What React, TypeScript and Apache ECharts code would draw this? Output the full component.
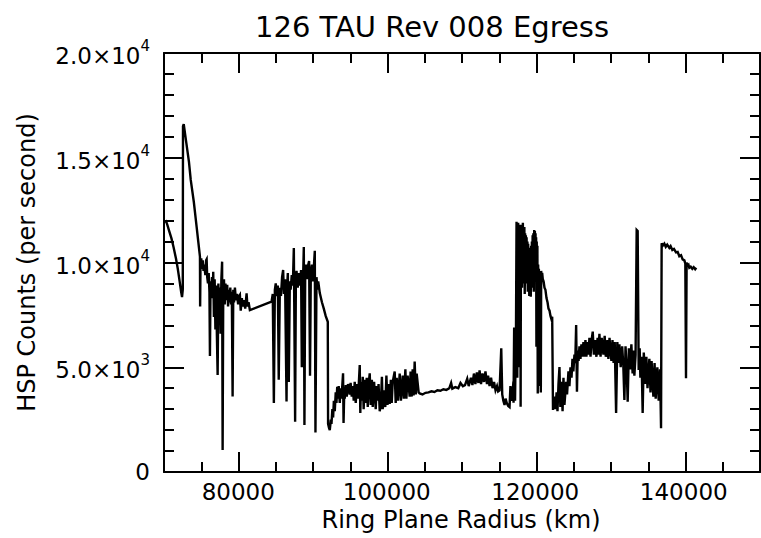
import React, { useEffect, useRef } from "react";
import * as echarts from "echarts";

const FONT = "DejaVu Sans";

const titleText = "126 TAU Rev 008 Egress";
const xAxisName = "Ring Plane Radius (km)";
const yAxisName = "HSP Counts (per second)";

const xMajorTicks = [80000, 100000, 120000, 140000];
const yTicks = [0, 5000, 10000, 15000, 20000];

// [radius km, counts per second]
const innerEdge: number[][] = [
  [70150, 11900], [70300, 11950], [70450, 11800], [70700, 11500], [71000, 11150], [71300, 10700],
  [71600, 10200], [71850, 9700], [72100, 9100], [72300, 8600], [72420, 8350], [72520, 8700],
  [72550, 16500], [72650, 16600], [73000, 15700], [73350, 14800], [73590, 13940], [74000, 12900],
  [74380, 11700], [74600, 11000], [74826, 10280],
];

const cRingInner: number[][] = [
  [74850, 7900], [74900, 9900], [75000, 10200], [75100, 9700], [75200, 10100], [75300, 9600],
  [75400, 9900], [75550, 9400], [75650, 10100], [75724, 10150], [75800, 9300], [75900, 9000],
  [76000, 9500], [76100, 8600], [76166, 5540], [76250, 9100], [76350, 8300], [76450, 9300],
  [76550, 8600], [76609, 9560], [76700, 7400], [76800, 9200], [76900, 6800], [77000, 8900],
  [77100, 6500], [77199, 4630], [77300, 9000], [77400, 7200], [77500, 8800], [77600, 6600],
  [77700, 9200], [77800, 10040], [77869, 1050], [77950, 8500], [78050, 9200], [78150, 8000],
  [78250, 9000], [78350, 8200], [78485, 8930], [78600, 7900], [78700, 8700], [78800, 8100],
  [78900, 8800], [79000, 8000], [79100, 8600], [79209, 3600], [79300, 8700], [79400, 8100],
  [79518, 8800], [79650, 8200], [79800, 8500], [79950, 8000], [80100, 8400], [80188, 8450],
  [80300, 7700], [80450, 8300], [80600, 7900], [80750, 8200], [80900, 7800], [81086, 8530],
  [81200, 7900], [81350, 8100], [81528, 7730],
];

const cRingOuter: number[][] = [
  [84437, 8130], [84600, 8500], [84746, 3290], [84880, 8700], [85000, 9000], [85150, 8400],
  [85282, 8900], [85400, 4400], [85550, 8800], [85700, 8400], [85850, 9300], [85992, 9640],
  [86100, 8500], [86250, 9200], [86448, 3360], [86550, 9000], [86622, 9500], [86750, 4300],
  [86890, 9100], [87000, 8700], [87150, 9400], [87293, 8900], [87427, 10690], [87601, 2400],
  [87700, 9100], [87789, 9600], [87950, 8800], [88100, 9500], [88231, 8900], [88400, 9640],
  [88500, 5000], [88673, 9300], [88767, 10740], [88850, 2240], [88950, 9300], [89050, 9900],
  [89169, 9200], [89300, 9800], [89478, 10070], [89600, 4600], [89706, 9500], [89850, 9900],
  [90014, 9100], [90100, 9700], [90242, 10560], [90330, 1880], [90470, 9300], [90600, 8700],
  [90700, 9100], [90912, 8540], [91200, 8100], [91448, 7800], [91700, 7450], [91984, 7170],
  [92024, 2300], [92150, 2100],
];

const bRingInner: number[][] = [
  [92252, 2000], [92400, 2500], [92480, 2300], [92600, 3000], [92700, 2600], [92800, 3400],
  [92923, 2900], [93050, 3800], [93150, 3300], [93250, 4070], [93325, 3500], [93450, 4100],
  [93593, 3300], [93700, 4000], [93821, 3500], [94035, 4710], [94100, 2340], [94200, 3900],
  [94263, 3500], [94400, 4150], [94531, 3600], [94700, 4200], [94933, 3700], [95050, 4250],
  [95201, 3600], [95350, 4100], [95469, 3400], [95600, 4300], [95738, 3300], [95900, 4200],
  [96046, 3500], [96274, 5110], [96350, 2820], [96450, 4300], [96542, 3400], [96676, 4550],
  [96800, 3000], [96944, 4400], [97100, 3300], [97212, 4500], [97350, 3100], [97500, 4300],
  [97614, 4710], [97750, 3200], [97900, 4400], [98016, 3100], [98200, 4300], [98419, 3000],
  [98550, 4100], [98687, 3400], [98800, 4200], [98955, 2900], [99100, 3200], [99250, 4550],
  [99357, 3000], [99500, 3900], [99700, 3100], [99853, 4600], [100000, 3200], [100150, 4200],
  [100296, 3250], [100450, 4400], [100564, 3300], [100700, 4300], [100966, 4800], [101100, 3300],
  [101234, 4500], [101400, 3400], [101636, 4700], [101800, 3400], [102039, 4600], [102200, 3500],
  [102400, 4900], [102534, 3500], [102700, 4600], [102977, 3600], [103100, 4800], [103250, 3600],
  [103379, 4900], [103500, 3650], [103647, 5270], [103800, 3700], [103915, 4700], [104183, 3800],
];

const bRingOuter: number[][] = [
  [104317, 3750], [104700, 3700], [105100, 3780], [105500, 3800], [105900, 3850], [106300, 3820],
  [106700, 3900], [107100, 3880], [107500, 3950], [107900, 3920], [108300, 4000], [108539, 4250],
  [108700, 3980], [109100, 4050], [109500, 4000], [109800, 4250], [110121, 4100], [110400, 4150],
  [110700, 4450], [110900, 4100], [111200, 4500], [111400, 4150], [111600, 4700], [111800, 4200],
  [112000, 4750], [112200, 4250], [112360, 4850], [112550, 4200], [112750, 4700], [112950, 4300],
  [113150, 4800], [113350, 4200], [113500, 4600], [113700, 4100], [113900, 4500], [114100, 4000],
  [114300, 4300], [114500, 3900], [114700, 4100], [114850, 3850], [115041, 3900], [115269, 5900],
  [115400, 3700], [115550, 3400], [115711, 3200], [115850, 3500], [116000, 3300], [116200, 3150],
  [116381, 3100], [116500, 4100], [116700, 3400], [116900, 4300],
];

const cassiniRegion: number[][] = [
  [116918, 3300], [117000, 6900], [117119, 3400], [117250, 7000], [117320, 11950], [117370, 9500],
  [117420, 4500], [117470, 11900], [117495, 10500], [117540, 11900], [117580, 9000], [117620, 11800],
  [117656, 10200], [117690, 11700], [117720, 5000], [117760, 11800], [117790, 9800], [117830, 11700],
  [117870, 3120], [117910, 11500], [117950, 9600], [117990, 11800], [118050, 8800], [118090, 11700],
  [118124, 9500], [118170, 11900], [118220, 9300], [118270, 11600], [118325, 9000], [118370, 11700],
  [118420, 8500], [118470, 11400], [118527, 9200], [118570, 11300], [118620, 9600], [118670, 11200],
  [118728, 9000], [118780, 11000], [118830, 8600], [118880, 10900], [118929, 8800], [118980, 10700],
  [119030, 8400], [119080, 10500], [119130, 8600], [119180, 10300], [119230, 8370], [119280, 10800],
  [119331, 8900], [119380, 11000], [119430, 8800], [119480, 11300], [119532, 9000], [119580, 11400],
  [119634, 8600], [119690, 11550], [119734, 9500], [119780, 11500], [119820, 9800], [119870, 11400],
  [119908, 9500], [119950, 11200], [119990, 5980], [120030, 11000], [120069, 9800], [120120, 10800],
  [120170, 3750], [120220, 9900], [120270, 8800], [120320, 9700], [120370, 4100], [120420, 9200],
  [120471, 8600], [120520, 9000], [120580, 3800], [120630, 9600], [120672, 9200], [120760, 9500],
  [120846, 9200], [120950, 9100], [121074, 8800], [121200, 8700], [121342, 8300], [121480, 8100],
  [121610, 7800], [121750, 7700], [121878, 7450], [122000, 7300], [122106, 7410], [122213, 2960],
];

const aRing: number[][] = [
  [122350, 3600], [122548, 3000], [122700, 3800], [122816, 2900], [122950, 4200], [123084, 5010],
  [123200, 3100], [123352, 4300], [123500, 2900], [123620, 4500], [123750, 3200], [123982, 4300],
  [124100, 3700], [124290, 4800], [124420, 4100], [124558, 5000], [124700, 4500], [124826, 5400],
  [124950, 4800], [125094, 5600], [125200, 5200], [125322, 7020], [125430, 3830], [125537, 5800],
  [125650, 5300], [125765, 6000], [125900, 5400], [126030, 6100], [126167, 5500], [126300, 6200],
  [126430, 5500], [126569, 6300], [126700, 5500], [126830, 6200], [126970, 5600], [127105, 6400],
  [127250, 5500], [127400, 6300], [127548, 6700], [127700, 5600], [127850, 6300], [128044, 5500],
  [128200, 6400], [128300, 5600], [128446, 6600], [128600, 5500], [128750, 6400], [128982, 5600],
  [129150, 6500], [129300, 5500], [129518, 6300], [129650, 5400], [129800, 6400], [130055, 5300],
  [130200, 6300], [130350, 5200], [130500, 6200], [130685, 2820], [130850, 6200], [131000, 5200],
  [131127, 6100], [131300, 5000], [131500, 6000], [131650, 5100], [131797, 3440], [131950, 6000],
  [132100, 5000], [132240, 3360], [132400, 5900], [132550, 4900], [132736, 6100], [132900, 4700],
  [133000, 5800], [133138, 4600], [133300, 5600], [133446, 11550], [133580, 11500], [133714, 4870],
  [133850, 5900], [133942, 4500], [134100, 5500], [134250, 2820], [134400, 5700], [134612, 4200],
  [134750, 5500], [134900, 4000], [135149, 5400], [135300, 3800], [135450, 5300], [135685, 3600],
  [135850, 5200], [136000, 3500], [136221, 5000], [136400, 3400], [136583, 4900], [136717, 2090],
];

const outerPlateau: number[][] = [
  [136798, 10920], [136950, 10800], [137159, 10900], [137350, 10750], [137550, 10850], [137829, 10700],
  [138000, 10780], [138232, 10600], [138450, 10650], [138728, 10480], [138950, 10500], [139170, 10300],
  [139400, 10350], [139613, 10150], [139850, 10100], [139975, 9950], [140068, 4470], [140150, 10000],
  [140243, 9850], [140400, 9900], [140511, 9750], [140700, 9800], [140913, 9700], [141100, 9780],
  [141300, 9680], [141449, 9750],
];

const profile = [
  ...innerEdge, ...cRingInner, ...cRingOuter, ...bRingInner, ...bRingOuter,
  ...cassiniRegion, ...aRing, ...outerPlateau,
];

function yLabel(v: number): string {
  if (v === 0) return "0";
  const e = Math.floor(Math.log10(v) + 1e-9);
  const m = (v / Math.pow(10, e)).toFixed(1);
  return `{b|${m}×10}{s|${e}}`;
}

export default function App() {
  const ref = useRef<HTMLDivElement>(null);
  useEffect(() => {
    if (!ref.current) return;
    const chart = echarts.init(ref.current, null, { renderer: "svg" });
    const black = "#000";
    const lineW = 2;
    const gridRect = { left: 164, right: 1, top: 53, bottom: 66, containLabel: false };
    const xBase = {
      type: "value" as const,
      min: 70000,
      max: 150000,
      interval: 5000,
      splitLine: { show: false },
    };
    const yBase = {
      type: "value" as const,
      min: 0,
      max: 20000,
      interval: 5000,
      splitLine: { show: false },
    };
    chart.setOption({
      animation: false,
      title: {
        text: titleText,
        left: 427,
        top: 7,
        textAlign: "center",
        textStyle: { fontFamily: FONT, fontSize: 29, fontWeight: "normal", color: black },
      },
      grid: [gridRect, { ...gridRect }],
      xAxis: [
        {
          ...xBase,
          gridIndex: 0,
          position: "bottom",
          axisLine: { show: true, onZero: false, lineStyle: { color: black, width: lineW } },
          axisTick: { show: true, inside: true, length: 10, lineStyle: { color: black, width: lineW } },
          axisLabel: { show: false },
        },
        {
          ...xBase,
          gridIndex: 0,
          position: "bottom",
          axisLine: { show: false, onZero: false },
          axisTick: {
            show: true,
            inside: true,
            length: 20,
            customValues: xMajorTicks,
            lineStyle: { color: black, width: lineW },
          },
          axisLabel: { show: false },
        },
        {
          ...xBase,
          gridIndex: 0,
          position: "top",
          axisLine: { show: true, onZero: false, lineStyle: { color: black, width: lineW } },
          axisTick: { show: true, inside: true, length: 10, lineStyle: { color: black, width: lineW } },
          axisLabel: { show: false },
        },
        {
          ...xBase,
          gridIndex: 0,
          position: "top",
          axisLine: { show: false, onZero: false },
          axisTick: {
            show: true,
            inside: true,
            length: 20,
            customValues: xMajorTicks,
            lineStyle: { color: black, width: lineW },
          },
          axisLabel: { show: false },
        },
        {
          ...xBase,
          gridIndex: 1,
          position: "bottom",
          axisLine: { show: false, onZero: false },
          axisTick: { show: false },
          axisLabel: {
            show: true,
            formatter: (v: number) => (xMajorTicks.indexOf(v) >= 0 ? String(v) : ""),
            color: black,
            fontFamily: FONT,
            fontSize: 23,
            margin: 8,
          },
          name: xAxisName,
          nameLocation: "middle",
          nameGap: 25,
          nameTextStyle: { fontFamily: FONT, fontSize: 24, color: black },
        },
      ],
      yAxis: [
        {
          ...yBase,
          gridIndex: 0,
          position: "left",
          axisLine: { show: true, onZero: false, lineStyle: { color: black, width: lineW } },
          axisTick: { show: true, inside: true, length: 20, customValues: yTicks, lineStyle: { color: black, width: lineW } },
          minorTick: { show: true, splitNumber: 5, length: 10, lineStyle: { color: black, width: lineW } },
          axisLabel: {
            show: true,
            formatter: yLabel,
            color: black,
            fontFamily: FONT,
            fontSize: 23,
            margin: 14,
            rich: {
              b: { fontFamily: FONT, fontSize: 23, color: black, padding: [6, 0, 0, 0], verticalAlign: "bottom" },
              s: { fontFamily: FONT, fontSize: 15, color: black, verticalAlign: "top" },
            },
          },
          name: yAxisName,
          nameLocation: "middle",
          nameGap: 125,
          nameTextStyle: { fontFamily: FONT, fontSize: 24, color: black },
        },
        {
          ...yBase,
          gridIndex: 0,
          position: "right",
          axisLine: { show: true, onZero: false, lineStyle: { color: black, width: lineW } },
          axisTick: { show: true, inside: true, length: 20, lineStyle: { color: black, width: lineW } },
          minorTick: { show: true, splitNumber: 5, length: 10, lineStyle: { color: black, width: lineW } },
          axisLabel: { show: false },
        },
        {
          ...yBase,
          gridIndex: 1,
          show: false,
        },
      ],
      series: [
        {
          type: "line",
          xAxisIndex: 0,
          yAxisIndex: 0,
          data: profile,
          showSymbol: false,
          symbol: "none",
          clip: true,
          lineStyle: { color: black, width: 2.4, join: "miter" },
          emphasis: { disabled: true },
        },
      ],
    });
    return () => chart.dispose();
  }, []);
  return (
    <div
      ref={ref}
      style={{ position: "fixed", left: 0, top: 0, width: 761, height: 538, background: "#fff" }}
    />
  );
}
